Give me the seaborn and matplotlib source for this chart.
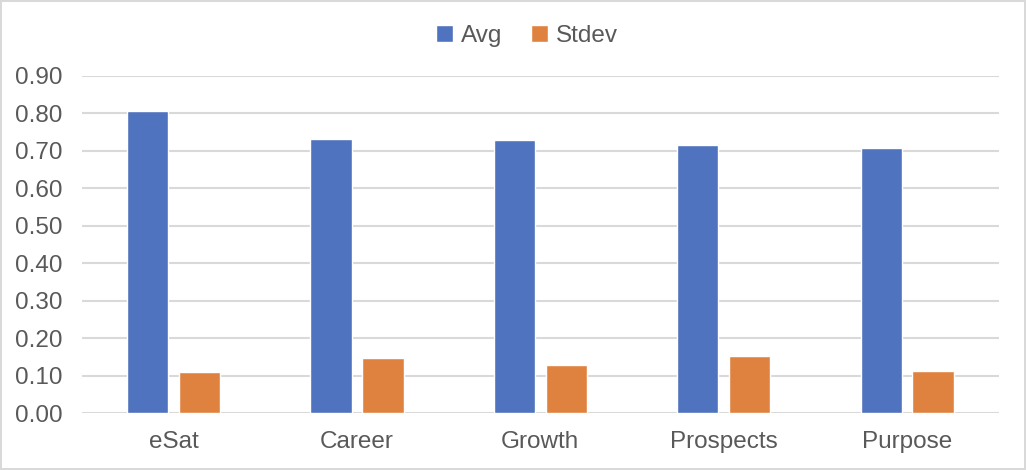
import matplotlib.pyplot as plt
import seaborn as sns
import pandas as pd

categories = ["eSat", "Career", "Growth", "Prospects", "Purpose"]
avgValues = [0.806, 0.731, 0.728, 0.715, 0.707]
stdevValues = [0.110, 0.147, 0.129, 0.153, 0.113]
seriesNames = ["Avg", "Stdev"]
yTicks = [0.0, 0.1, 0.2, 0.3, 0.4, 0.5, 0.6, 0.7, 0.8, 0.9]

sns.set_theme(style="white")
plt.rcParams["font.family"] = ["Liberation Sans", "DejaVu Sans"]

data = pd.DataFrame({
    "Category": categories * 2,
    "Series": [seriesNames[0]] * len(categories) + [seriesNames[1]] * len(categories),
    "Value": avgValues + stdevValues,
})

textColor = "#595959"
gridColor = "#d9d9d9"

fig = plt.figure(figsize=(10.26, 4.70), dpi=100, facecolor="white",
                 edgecolor=gridColor, linewidth=1.5)
ax = fig.add_axes([0.0799, 0.1206, 0.8935, 0.7184])

sns.barplot(data=data, x="Category", y="Value", hue="Series",
            palette=["#4f73be", "#e0823f"], width=0.567, gap=0.21,
            saturation=1, ax=ax, zorder=3)

ax.set_ylim(0, 0.9)
ax.set_xlim(-0.5, len(categories) - 0.5)
ax.set_yticks(yTicks)
ax.set_yticklabels([f"{t:.2f}" for t in yTicks])
ax.yaxis.grid(True, color=gridColor, linewidth=1.5, zorder=0)
ax.set_axisbelow(True)
for side in ["top", "right", "left", "bottom"]:
    ax.spines[side].set_visible(False)
ax.axhline(0, color=gridColor, linewidth=1.8, zorder=2)

ax.set_xlabel("")
ax.set_ylabel("")
ax.tick_params(axis="y", length=0, pad=14, labelsize=17.5, labelcolor=textColor)
ax.tick_params(axis="x", length=0, pad=13, labelsize=17.5, labelcolor=textColor)

ax.legend(loc="upper center", bbox_to_anchor=(0.4855, 1.215), ncol=2, frameon=False,
          fontsize=17.5, labelcolor=textColor, handlelength=0.7, handleheight=0.7,
          handletextpad=0.3, columnspacing=1.2)

plt.savefig("out.png", dpi=100)
